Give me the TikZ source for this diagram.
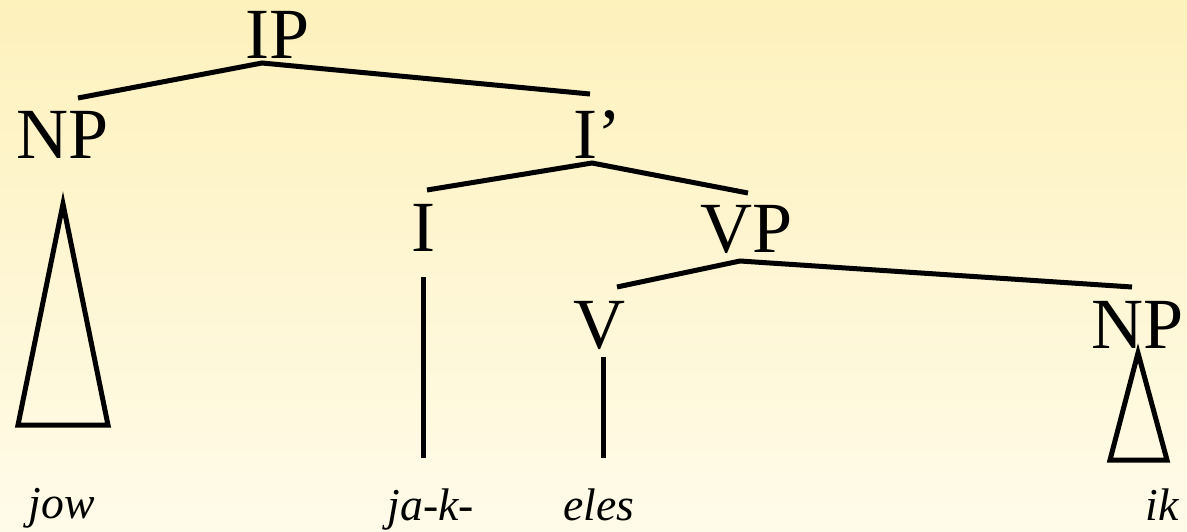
\documentclass[tikz,border=0pt]{standalone}
\usepackage{fontspec}
\setmainfont{Liberation Serif}
\usetikzlibrary{positioning}
\definecolor{bgtop}{RGB}{253,241,188}
\definecolor{bgbot}{RGB}{255,251,233}
\begin{document}
\begin{tikzpicture}[x=0.02cm,y=-0.02cm]
\tikzstyle{every node}+=[inner sep=0pt,anchor=base]
\tikzstyle{cat}=[font=\fontsize{41}{41}\selectfont]
\tikzstyle{word}=[font=\fontsize{26}{26}\selectfont\itshape]
\tikzstyle{branch}=[line width=2.85pt,line cap=butt,line join=miter]
\shade [top color=bgtop,bottom color=bgbot] (0,0) rectangle (1187,531);
\useasboundingbox (0,0) rectangle (1187,531);
% category labels
\node [cat] (ip) at (278,58) {IP};
\node [cat] (np1) at (63,158) {NP};
\node [cat] (ibar) at (597,158) {I’};
\node [cat] (i) at (423,251) {I};
\node [cat] (vp) at (747,252) {VP};
\node [cat] (v) at (600,348) {V};
\node [cat] (np2) at (1138,348) {NP};
% words
\node [word] (jow) at (62,518) {jow};
\node [word] (jak) at (431,520) {ja-k-};
\node [word] (eles) at (599,520) {eles};
\node [word] (ik) at (1162,520) {ik};
% branch ends
\coordinate (ip-b) at (262,63);
\coordinate (np1-t) at (78,98);
\coordinate (ibar-t) at (590,94);
\coordinate (ibar-b) at (592,163);
\coordinate (i-t) at (427,190);
\coordinate (vp-t) at (748,193);
\coordinate (i-b) at (423,277);
\coordinate (i-e) at (423,458);
\coordinate (vp-b) at (740,261);
\coordinate (v-t) at (617,287);
\coordinate (np2-t) at (1132,287);
\coordinate (v-b) at (603,357);
\coordinate (v-e) at (603,458);
% branches
\draw [branch] (np1-t) -- (ip-b) -- (ibar-t);
\draw [branch] (i-t) -- (ibar-b) -- (vp-t);
\draw [branch] (v-t) -- (vp-b) -- (np2-t);
\draw [branch] (i-b) -- (i-e);
\draw [branch] (v-b) -- (v-e);
% triangles
\draw [branch] (63,204) -- (108,425) -- (18,425) -- cycle;
\draw [branch] (1138,353) -- (1167,460) -- (1110,460) -- cycle;
\end{tikzpicture}
\end{document}
